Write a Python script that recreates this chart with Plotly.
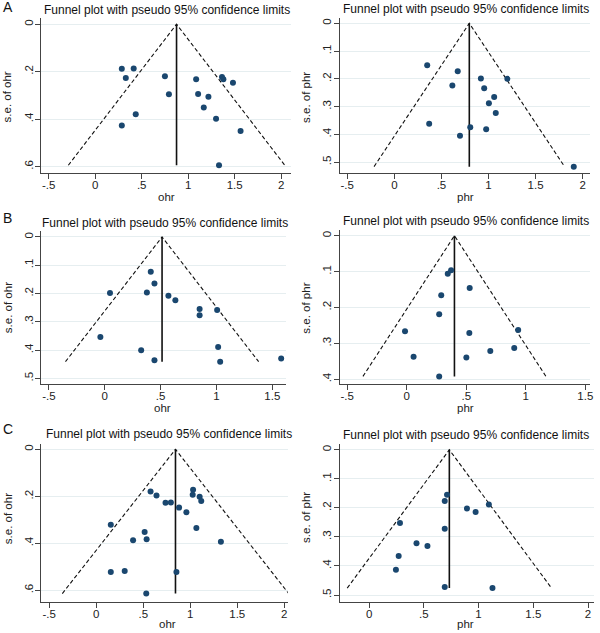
import plotly.graph_objects as go

# ---------------- data ----------------
# Panel A, ohr
A_ohr_es = [0.286, 0.414, 0.329, 0.750, 0.793, 0.436, 0.286, 1.086, 1.107, 1.218, 1.168, 1.364, 1.379, 1.482, 1.300, 1.564, 1.332]
A_ohr_se = [0.188, 0.187, 0.226, 0.219, 0.295, 0.379, 0.427, 0.232, 0.294, 0.306, 0.351, 0.222, 0.232, 0.247, 0.398, 0.450, 0.594]
A_ohr_pooled = 0.875

# Panel A, phr
A_phr_es = [0.349, 0.673, 0.616, 0.919, 1.200, 0.954, 1.060, 1.004, 1.077, 0.370, 0.806, 0.975, 0.697, 1.905]
A_phr_se = [0.151, 0.173, 0.224, 0.199, 0.200, 0.234, 0.265, 0.288, 0.323, 0.362, 0.374, 0.381, 0.405, 0.516]
A_phr_pooled = 0.796

# Panel B, ohr
B_ohr_es = [0.412, 0.445, 0.377, 0.047, 0.570, 0.632, 0.849, 0.849, 1.006, -0.039, 0.326, 0.445, 1.015, 1.033, 1.579]
B_ohr_se = [0.123, 0.165, 0.196, 0.198, 0.208, 0.224, 0.255, 0.277, 0.258, 0.354, 0.401, 0.436, 0.389, 0.441, 0.430]
B_ohr_pooled = 0.513

# Panel B, phr
B_phr_es = [0.373, 0.345, 0.529, 0.290, 0.273, -0.014, 0.526, 0.936, 0.903, 0.702, 0.058, 0.501, 0.273]
B_phr_se = [0.096, 0.106, 0.146, 0.166, 0.219, 0.266, 0.271, 0.263, 0.313, 0.321, 0.337, 0.339, 0.392]
B_phr_pooled = 0.401

# Panel C, ohr
C_ohr_es = [0.578, 0.641, 0.737, 0.794, 0.881, 0.959, 1.030, 1.026, 1.100, 1.117, 1.065, 1.326, 0.155, 0.515, 0.392, 0.536, 0.155, 0.303, 0.853, 0.532]
C_ohr_se = [0.180, 0.197, 0.227, 0.226, 0.248, 0.268, 0.172, 0.193, 0.202, 0.220, 0.335, 0.393, 0.321, 0.352, 0.387, 0.383, 0.522, 0.518, 0.522, 0.614]
C_ohr_pooled = 0.843

# Panel C, phr
C_phr_es = [0.712, 0.691, 0.894, 0.973, 1.094, 0.282, 0.691, 0.433, 0.533, 0.270, 0.245, 0.691, 1.127]
C_phr_se = [0.155, 0.176, 0.202, 0.214, 0.188, 0.252, 0.272, 0.322, 0.331, 0.366, 0.413, 0.472, 0.476]
C_phr_pooled = 0.733

# tick values / labels
x_ticks_m05_2 = [-0.5, 0, 0.5, 1, 1.5, 2]
x_labels_m05_2 = ["-.5", "0", ".5", "1", "1.5", "2"]
x_ticks_m05_15 = [-0.5, 0, 0.5, 1, 1.5]
x_labels_m05_15 = ["-.5", "0", ".5", "1", "1.5"]
x_ticks_0_2 = [0, 0.5, 1, 1.5, 2]
x_labels_0_2 = ["0", ".5", "1", "1.5", "2"]
y_ticks_by2_06 = [0, 0.2, 0.4, 0.6]
y_labels_by2_06 = ["0", ".2", ".4", ".6"]
y_ticks_by1_05 = [0, 0.1, 0.2, 0.3, 0.4, 0.5]
y_labels_by1_05 = ["0", ".1", ".2", ".3", ".4", ".5"]
y_ticks_by1_04 = [0, 0.1, 0.2, 0.3, 0.4]
y_labels_by1_04 = ["0", ".1", ".2", ".3", ".4"]

panel_letters = ["A", "B", "C"]
plot_title = "Funnel plot with pseudo 95% confidence limits"
Z95 = 1.96

# ---------------- layout helpers ----------------
W, H = 600, 633
FONT = "Liberation Sans, Arial, sans-serif"
DOT = "#1a476f"
AXC = "#444444"
GRID = "#e6eef0"

def px_x(v):
    return v / W

def px_y(v):
    return 1 - v / H

panels = [
    dict(es=A_ohr_es, se=A_ohr_se, pooled=A_ohr_pooled, name="ohr",
         box=(41.7, 292.7, 18.3, 173.3), xr=[-0.578, 2.109], yr=[0.628, -0.025],
         xt=(x_ticks_m05_2, x_labels_m05_2), yt=(y_ticks_by2_06, y_labels_by2_06),
         title_xy=(168, 10), xlab_xy=(167.7, 197), ylab_xy=(7.5, 97)),
    dict(es=A_phr_es, se=A_phr_se, pooled=A_phr_pooled, name="phr",
         box=(341.7, 593.3, 18.3, 173.3), xr=[-0.577, 2.081], yr=[0.540, -0.018],
         xt=(x_ticks_m05_2, x_labels_m05_2), yt=(y_ticks_by1_05, y_labels_by1_05),
         title_xy=(468, 9.5), xlab_xy=(468, 197), ylab_xy=(307.5, 97)),
    dict(es=B_ohr_es, se=B_ohr_se, pooled=B_ohr_pooled, name="ohr",
         box=(41.7, 287.3, 231.0, 384.3), xr=[-0.566, 1.621], yr=[0.521, -0.021],
         xt=(x_ticks_m05_15, x_labels_m05_15), yt=(y_ticks_by1_05, y_labels_by1_05),
         title_xy=(166, 223), xlab_xy=(163.3, 407.5), ylab_xy=(7.5, 307.7)),
    dict(es=B_phr_es, se=B_phr_se, pooled=B_phr_pooled, name="phr",
         box=(341.7, 593.3, 230.3, 384.3), xr=[-0.560, 1.542], yr=[0.414, -0.015],
         xt=(x_ticks_m05_15, x_labels_m05_15), yt=(y_ticks_by1_04, y_labels_by1_04),
         title_xy=(468, 221), xlab_xy=(467.7, 407.5), ylab_xy=(307.5, 307.7)),
    dict(es=C_ohr_es, se=C_ohr_se, pooled=C_ohr_pooled, name="ohr",
         box=(41.7, 289.3, 443.7, 602.0), xr=[-0.582, 2.038], yr=[0.650, -0.024],
         xt=(x_ticks_m05_2, x_labels_m05_2), yt=(y_ticks_by2_06, y_labels_by2_06),
         title_xy=(170, 434.3), xlab_xy=(168.3, 624), ylab_xy=(7.5, 518.7)),
    dict(es=C_phr_es, se=C_phr_se, pooled=C_phr_pooled, name="phr",
         box=(341.7, 596.7, 443.7, 602.0), xr=[-0.266, 2.052], yr=[0.524, -0.021],
         xt=(x_ticks_0_2, x_labels_0_2), yt=(y_ticks_by1_05, y_labels_by1_05),
         title_xy=(468, 435.3), xlab_xy=(468, 624), ylab_xy=(307.5, 517)),
]

fig = go.Figure()
annotations = []
layout_axes = {}

for i, p in enumerate(panels, start=1):
    xa = "x" if i == 1 else f"x{i}"
    ya = "y" if i == 1 else f"y{i}"
    maxse = max(p["se"])
    b = p["pooled"]
    # pseudo 95% confidence limits
    fig.add_trace(go.Scatter(
        x=[b - Z95 * maxse, b, b + Z95 * maxse], y=[maxse, 0, maxse],
        mode="lines", line=dict(color="#111111", width=1.1, dash="4px,2.5px"),
        xaxis=xa, yaxis=ya, showlegend=False, hoverinfo="skip"))
    # pooled estimate
    fig.add_trace(go.Scatter(
        x=[b, b], y=[0, maxse], mode="lines",
        line=dict(color="#111111", width=1.6),
        xaxis=xa, yaxis=ya, showlegend=False, hoverinfo="skip"))
    # studies
    fig.add_trace(go.Scatter(
        x=p["es"], y=p["se"], mode="markers",
        marker=dict(color=DOT, size=6, line=dict(width=0)),
        xaxis=xa, yaxis=ya, showlegend=False))

    x0, x1, yt, yb = p["box"]
    xkey = "xaxis" if i == 1 else f"xaxis{i}"
    ykey = "yaxis" if i == 1 else f"yaxis{i}"
    layout_axes[xkey] = dict(
        domain=[px_x(x0), px_x(x1)], range=p["xr"], anchor=ya,
        showline=True, linecolor=AXC, linewidth=1, mirror=False,
        ticks="outside", ticklen=5, tickcolor=AXC, tickwidth=1,
        tickvals=p["xt"][0], ticktext=p["xt"][1], ticklabelstandoff=-4,
        showgrid=False, zeroline=False,
        tickfont=dict(family=FONT, size=11.5, color="#222222"))
    layout_axes[ykey] = dict(
        domain=[px_y(yb), px_y(yt)], range=p["yr"], anchor=xa,
        showline=True, linecolor=AXC, linewidth=1, mirror=False,
        ticks="outside", ticklen=5, tickcolor=AXC, tickwidth=1,
        tickvals=p["yt"][0], ticktext=p["yt"][1], tickangle=-90, ticklabelstandoff=-2,
        showgrid=True, gridcolor=GRID, gridwidth=1, zeroline=False,
        tickfont=dict(family=FONT, size=11.5, color="#222222"))

    tx, ty = p["title_xy"]
    annotations.append(dict(text=plot_title, x=px_x(tx), y=px_y(ty), xref="paper", yref="paper",
                            showarrow=False, xanchor="center", yanchor="middle",
                            font=dict(family=FONT, size=12, color="#111111")))
    lx, ly = p["xlab_xy"]
    annotations.append(dict(text=p["name"], x=px_x(lx), y=px_y(ly), xref="paper", yref="paper",
                            showarrow=False, xanchor="center", yanchor="middle",
                            font=dict(family=FONT, size=11.5, color="#222222")))
    vx, vy = p["ylab_xy"]
    annotations.append(dict(text=f"s.e. of {p['name']}", x=px_x(vx), y=px_y(vy), xref="paper", yref="paper",
                            showarrow=False, xanchor="center", yanchor="middle", textangle=-90,
                            font=dict(family=FONT, size=11.5, color="#222222")))

for letter, ly in zip(panel_letters, [7, 218, 429]):
    annotations.append(dict(text=letter, x=px_x(1), y=px_y(ly), xref="paper", yref="paper",
                            showarrow=False, xanchor="left", yanchor="middle",
                            font=dict(family=FONT, size=14, color="#111111")))

fig.update_layout(
    width=W, height=H, margin=dict(l=0, r=0, t=0, b=0),
    paper_bgcolor="white", plot_bgcolor="white",
    annotations=annotations, showlegend=False,
    **layout_axes)

fig.write_html("out.html", config={"displayModeBar": False},
               post_script="document.body.style.margin='0px';")
